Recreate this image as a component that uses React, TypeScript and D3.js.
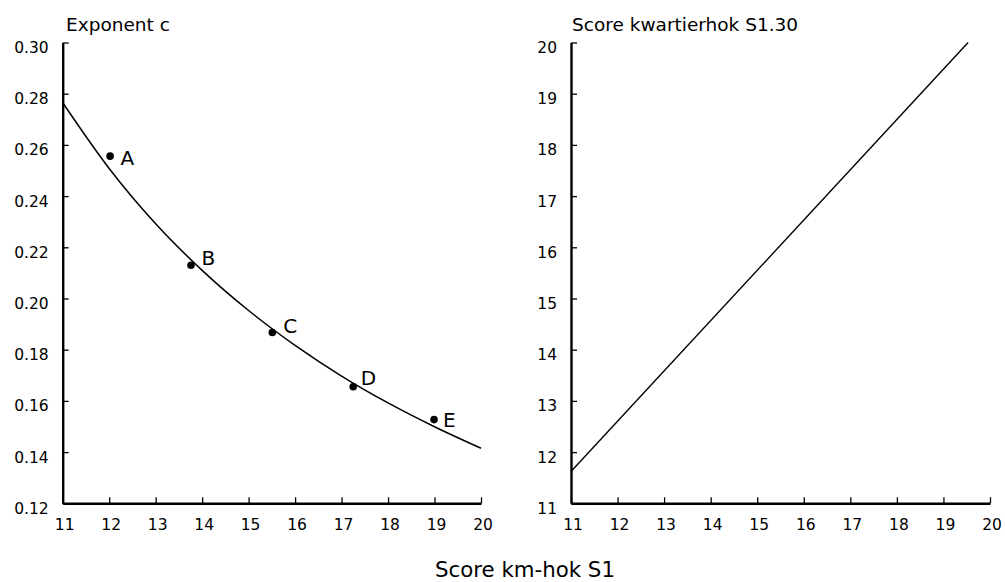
import React, { useEffect, useRef } from "react";
import * as d3 from "d3";

// ---- data ----
const pointLabels = ["A", "B", "C", "D", "E"];
const pointX = [12.02, 13.76, 15.51, 17.25, 18.99];
const pointY = [0.2556, 0.213, 0.1867, 0.1655, 0.1527];

// fitted curve
const curveX = [11, 12, 13, 14, 15, 16, 17, 18, 19, 20];
const curveY = [0.2765, 0.2508, 0.2292, 0.211, 0.1953, 0.1817, 0.1697, 0.1592, 0.1499, 0.1415];

// right panel line
const lineX = [11, 19.53];
const lineY = [11.62, 20];

const xTicks = [11, 12, 13, 14, 15, 16, 17, 18, 19, 20];
const leftYTicks = [0.12, 0.14, 0.16, 0.18, 0.2, 0.22, 0.24, 0.26, 0.28, 0.3];
const rightYTicks = [11, 12, 13, 14, 15, 16, 17, 18, 19, 20];

const leftTitle = "Exponent c";
const rightTitle = "Score kwartierhok S1.30";
const xTitle = "Score km-hok S1";

// label offsets (styling)
const labelDx = [10.5, 10.5, 11, 7.5, 9];
const labelDy = [8.5, 0, 0, -1.5, 7.5];

const FONT = "'DejaVu Sans', sans-serif";

export default function App() {
  const ref = useRef<SVGSVGElement>(null);

  const top = 42.5;
  const bottom = 503.3;
  const xL = d3.scaleLinear().domain([11, 20]).range([62.7, 481]);
  const yL = d3.scaleLinear().domain([0.12, 0.3]).range([bottom, top]);
  const xR = d3.scaleLinear().domain([11, 20]).range([571, 990]);
  const yR = d3.scaleLinear().domain([11, 20]).range([bottom, top]);

  useEffect(() => {
    const svg = d3.select(ref.current);
    svg.selectAll(".axis").remove();

    const styleAxis = (g: any) => {
      g.select(".domain").attr("stroke", "#000").attr("stroke-width", 2.4);
      g.selectAll(".tick line").attr("stroke", "#000").attr("stroke-width", 1.3);
      g.selectAll(".tick text")
        .attr("fill", "#000")
        .style("font-family", FONT)
        .style("font-size", "15.5px");
    };

    const addY = (y: any, x: number, ticks: number[], fmt: (d: number) => string) => {
      const g = svg
        .append("g")
        .attr("class", "axis")
        .attr("transform", `translate(${x},0)`)
        .call(
          d3.axisLeft(y).tickValues(ticks).tickFormat(fmt as any).tickSizeInner(-6).tickSizeOuter(0).tickPadding(14)
        );
      styleAxis(g);
      g.selectAll(".tick text").attr("dy", null).attr("y", 10);
    };

    const addX = (x: any, yPos: number) => {
      const g = svg
        .append("g")
        .attr("class", "axis")
        .attr("transform", `translate(0,${yPos})`)
        .call(d3.axisBottom(x).tickValues(xTicks).tickFormat(d3.format("d") as any).tickSizeInner(-6).tickSizeOuter(0));
      styleAxis(g);
      g.selectAll(".tick text").attr("dy", null).attr("y", 27).attr("x", 1.5);
    };

    addY(yL, xL(11), leftYTicks, d3.format(".2f"));
    addY(yR, xR(11), rightYTicks, d3.format("d"));
    addX(xL, bottom);
    addX(xR, bottom);
  }, []);

  const curvePath = d3
    .line<number>()
    .x((_, i) => xL(curveX[i]))
    .y((d) => yL(d))
    .curve(d3.curveMonotoneX)(curveY);

  const rightPath = d3
    .line<number>()
    .x((_, i) => xR(lineX[i]))
    .y((d) => yR(d))(lineY);

  return (
    <svg
      ref={ref}
      width={1005}
      height={582}
      style={{ position: "absolute", left: 0, top: 0, background: "#fff" }}
    >
      <rect x={0} y={0} width={1005} height={582} fill="#fff" />
      <text x={66} y={30.7} fontFamily={FONT} fontSize={18.5} fill="#000">
        {leftTitle}
      </text>
      <text x={572} y={31} fontFamily={FONT} fontSize={18.5} fill="#000">
        {rightTitle}
      </text>
      <text x={525} y={576.5} textAnchor="middle" fontFamily={FONT} fontSize={21.3} fill="#000">
        {xTitle}
      </text>

      <path d={curvePath || ""} fill="none" stroke="#000" strokeWidth={1.5} />
      <path d={rightPath || ""} fill="none" stroke="#000" strokeWidth={1.4} />

      {pointX.map((px, i) => (
        <g key={pointLabels[i]}>
          <circle cx={xL(px)} cy={yL(pointY[i])} r={3.8} fill="#000" />
          <text
            x={xL(px) + labelDx[i]}
            y={yL(pointY[i]) + labelDy[i]}
            fontFamily={FONT}
            fontSize={20}
            fill="#000"
          >
            {pointLabels[i]}
          </text>
        </g>
      ))}
    </svg>
  );
}
